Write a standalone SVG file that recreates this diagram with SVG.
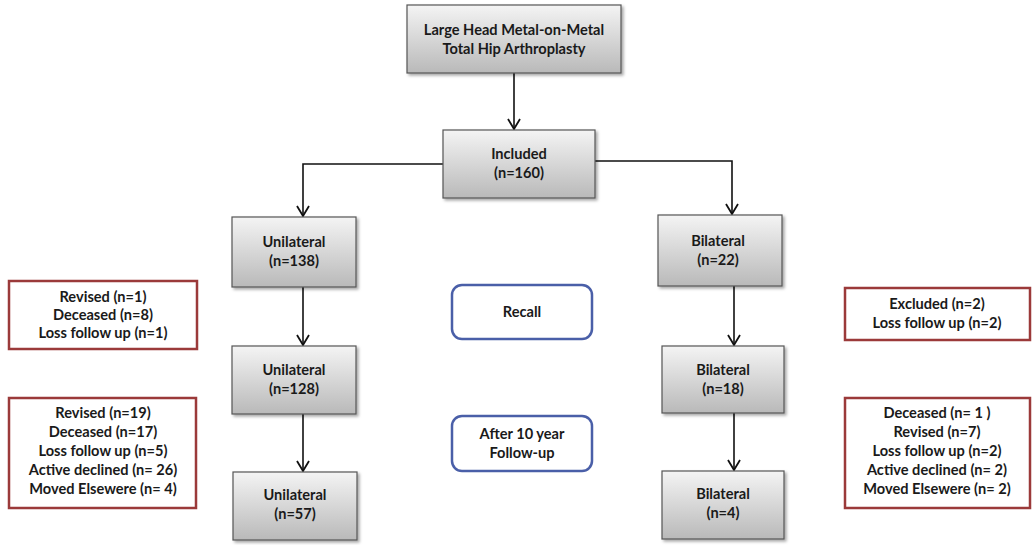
<svg xmlns="http://www.w3.org/2000/svg" width="1033" height="545" viewBox="0 0 1033 545">
<defs>
<linearGradient id="g" x1="0" y1="0" x2="0" y2="1">
<stop offset="0" stop-color="#f4f4f4"/>
<stop offset="1" stop-color="#b9b9b9"/>
</linearGradient>
<filter id="sh" x="-10%" y="-10%" width="130%" height="130%">
<feDropShadow dx="2" dy="2" stdDeviation="1.5" flood-color="#000" flood-opacity="0.35"/>
</filter>
<marker id="ah" viewBox="0 0 12 14" refX="11" refY="7" markerWidth="12" markerHeight="14" markerUnits="userSpaceOnUse" orient="auto">
<path d="M1,1 L11,7 L1,13" fill="none" stroke="#111" stroke-width="1.8"/>
</marker>
</defs>
<style>
.box{fill:url(#g);stroke:#555;stroke-width:1.2;filter:url(#sh)}
.red{fill:#fff;stroke:#9b3a3a;stroke-width:2.5}
.blue{fill:#fff;stroke:#4a5fa8;stroke-width:2.5}
.t{font-family:Lato,"Open Sans",sans-serif;font-weight:bold;font-size:14.6px;fill:#1a1a1a;text-anchor:middle}
.c{fill:none;stroke:#111;stroke-width:1.6;marker-end:url(#ah)}
</style>
<rect width="1033" height="545" fill="#fff"/>
<g id="connectors">
<path class="c" d="M514,73 V129"/>
<path class="c" d="M443,164 H303 V216"/>
<path class="c" d="M594,161 H732 V214"/>
<path class="c" d="M303,287 V345"/>
<path class="c" d="M734,286 V345"/>
<path class="c" d="M303,414 V471"/>
<path class="c" d="M734,413 V470"/>
</g>
<g id="top"><rect class="box" x="407" y="5" width="214" height="68"/>
<text class="t" x="514" y="35">Large Head Metal-on-Metal</text><text class="t" x="514" y="54">Total Hip Arthroplasty</text></g>
<g id="included"><rect class="box" x="443" y="130" width="152" height="68"/>
<text class="t" x="519" y="159">Included</text><text class="t" x="519" y="178">(n=160)</text></g>
<g id="uni138"><rect class="box" x="232" y="217" width="124" height="70"/>
<text class="t" x="294" y="247">Unilateral</text><text class="t" x="294" y="266">(n=138)</text></g>
<g id="bi22"><rect class="box" x="658" y="215" width="124" height="71"/>
<text class="t" x="718" y="246">Bilateral</text><text class="t" x="718" y="265">(n=22)</text></g>
<g id="left1"><rect class="red" x="9" y="281" width="188" height="68"/>
<text class="t" x="103" y="302">Revised (n=1)</text><text class="t" x="103" y="320">Deceased (n=8)</text><text class="t" x="103" y="338">Loss follow up (n=1)</text></g>
<g id="recall"><rect class="blue" x="452" y="285" width="140" height="54" rx="10"/>
<text class="t" x="522" y="317">Recall</text></g>
<g id="right1"><rect class="red" x="845" y="288" width="185" height="52"/>
<text class="t" x="937" y="309">Excluded (n=2)</text><text class="t" x="937" y="328">Loss follow up (n=2)</text></g>
<g id="uni128"><rect class="box" x="232" y="346" width="124" height="68"/>
<text class="t" x="294" y="375">Unilateral</text><text class="t" x="294" y="394">(n=128)</text></g>
<g id="bi18"><rect class="box" x="662" y="346" width="122" height="67"/>
<text class="t" x="723" y="375">Bilateral</text><text class="t" x="723" y="394">(n=18)</text></g>
<g id="left2"><rect class="red" x="9" y="398" width="187" height="110"/>
<text class="t" x="103" y="418">Revised (n=19)</text><text class="t" x="103" y="437">Deceased (n=17)</text><text class="t" x="103" y="456">Loss follow up (n=5)</text><text class="t" x="103" y="475">Active declined (n= 26)</text><text class="t" x="103" y="494">Moved Elsewere (n= 4)</text></g>
<g id="after"><rect class="blue" x="452" y="416" width="140" height="55" rx="10"/>
<text class="t" x="522" y="439">After 10 year</text><text class="t" x="522" y="458">Follow-up</text></g>
<g id="right2"><rect class="red" x="845" y="398" width="185" height="110"/>
<text class="t" x="937" y="418">Deceased (n= 1 )</text><text class="t" x="937" y="437">Revised (n=7)</text><text class="t" x="937" y="456">Loss follow up (n=2)</text><text class="t" x="937" y="475">Active declined (n= 2)</text><text class="t" x="937" y="494">Moved Elsewere (n= 2)</text></g>
<g id="uni57"><rect class="box" x="233" y="472" width="124" height="68"/>
<text class="t" x="295" y="500">Unilateral</text><text class="t" x="295" y="519">(n=57)</text></g>
<g id="bi4"><rect class="box" x="662" y="471" width="122" height="68"/>
<text class="t" x="723" y="499">Bilateral</text><text class="t" x="723" y="518">(n=4)</text></g>
</svg>
